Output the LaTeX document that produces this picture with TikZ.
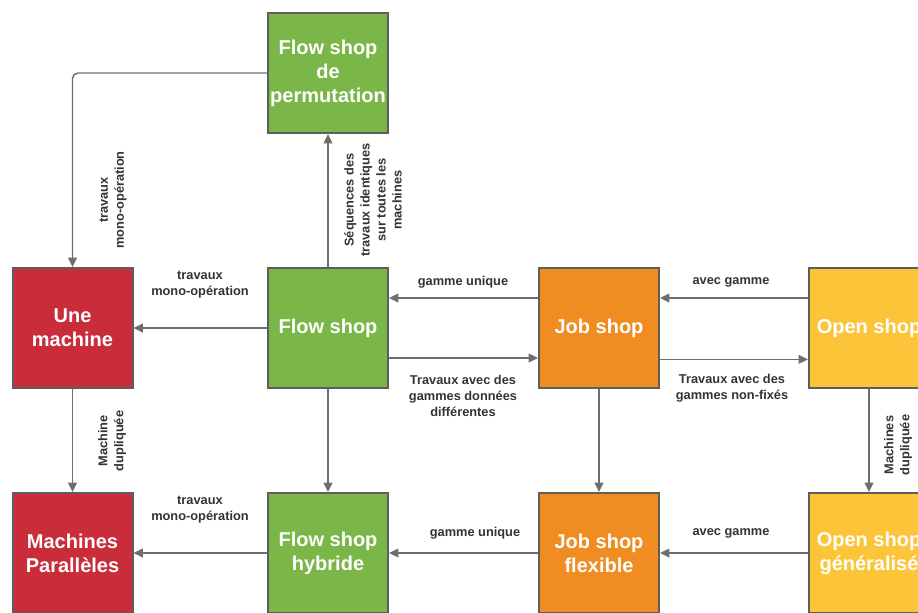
\documentclass[tikz,border=0pt]{standalone}
\usepackage{fontspec}
\setmainfont{Liberation Sans}
\usetikzlibrary{arrows.meta}
\definecolor{cgreen}{HTML}{7AB648}
\definecolor{cred}{HTML}{C92D39}
\definecolor{corange}{HTML}{EF8D22}
\definecolor{cyellow}{HTML}{FCC438}
\definecolor{cborder}{HTML}{5E5E5E}
\definecolor{cline}{HTML}{6E6E6E}
\definecolor{ctext}{HTML}{333333}
\begin{document}
\begin{tikzpicture}[x=0.75pt,y=-0.75pt,
 box/.style={draw=cborder, line width=1.5pt, minimum width=90pt, minimum height=90pt, inner sep=0pt, text=white, font=\bfseries\fontsize{15}{18}\selectfont, align=center},
 arr/.style={draw=cline, line width=1.1pt, -{Triangle[length=7pt,width=6.5pt]}},
 lbl/.style={text=ctext, font=\bfseries\fontsize{9.6}{12}\selectfont, align=center, inner sep=0pt}]
\useasboundingbox (0,0) rectangle (918,612);
\clip (0,0) rectangle (918,612);
% boxes
\node[box, fill=cgreen] (fsp) at (328,73) {Flow shop\\de\\permutation};
\node[box, fill=cred] (um) at (72.5,328) {Une\\machine};
\node[box, fill=cgreen] (fs) at (328,328) {Flow shop};
\node[box, fill=corange] (js) at (599,328) {Job shop};
\node[box, fill=cyellow] (os) at (869,328) {Open shop};
\node[box, fill=cred] (mp) at (72.5,553) {Machines\\Parallèles};
\node[box, fill=cgreen] (fsh) at (328,553) {Flow shop\\hybride};
\node[box, fill=corange] (jsf) at (599,553) {Job shop\\flexible};
\node[box, fill=cyellow] (osg) at (869,553) {Open shop\\généralisé};
% connectors
\draw[arr, rounded corners=4pt] (fsp.west) -| (um.north);
\draw[arr] (fs.north) -- (fsp.south);
\draw[arr] (fs.west) -- (um.east);
\draw[arr] ([yshift=22.5pt]js.west) -- ([yshift=22.5pt]fs.east);
\draw[arr] ([yshift=-22.5pt]fs.east) -- ([yshift=-22.5pt]js.west);
\draw[arr] ([yshift=22.5pt]os.west) -- ([yshift=22.5pt]js.east);
\draw[arr] ([yshift=-23.5pt]js.east) -- ([yshift=-23.5pt]os.west);
\draw[arr] (um.south) -- (mp.north);
\draw[arr] (fs.south) -- (fsh.north);
\draw[arr] (js.south) -- (jsf.north);
\draw[arr] (os.south) -- (osg.north);
\draw[arr] (fsh.west) -- (mp.east);
\draw[arr] (jsf.west) -- (fsh.east);
\draw[arr] (osg.west) -- (jsf.east);
% labels
\node[lbl, rotate=90] (l1) at (113,200) {travaux\\mono-opération};
\node[lbl, rotate=90] (l2) at (373,200) {Séquences des\\travaux identiques\\sur toutes les\\machines};
\node[lbl] (l3) at (200,285) {travaux\\mono-opération};
\node[lbl] (l4) at (463,282) {gamme unique};
\node[lbl] (l5) at (463,396) {Travaux avec des\\gammes données\\différentes};
\node[lbl] (l6) at (731,282) {avec gamme};
\node[lbl] (l7) at (732,388) {Travaux avec des\\gammes non-fixés};
\node[lbl, rotate=90] (l8) at (112,441) {Machine\\dupliquée};
\node[lbl, rotate=90] (l9) at (898,445) {Machines\\dupliquée};
\node[lbl] (l10) at (200,510) {travaux\\mono-opération};
\node[lbl] (l11) at (475,533) {gamme unique};
\node[lbl] (l12) at (731,533) {avec gamme};
\end{tikzpicture}
\end{document}
